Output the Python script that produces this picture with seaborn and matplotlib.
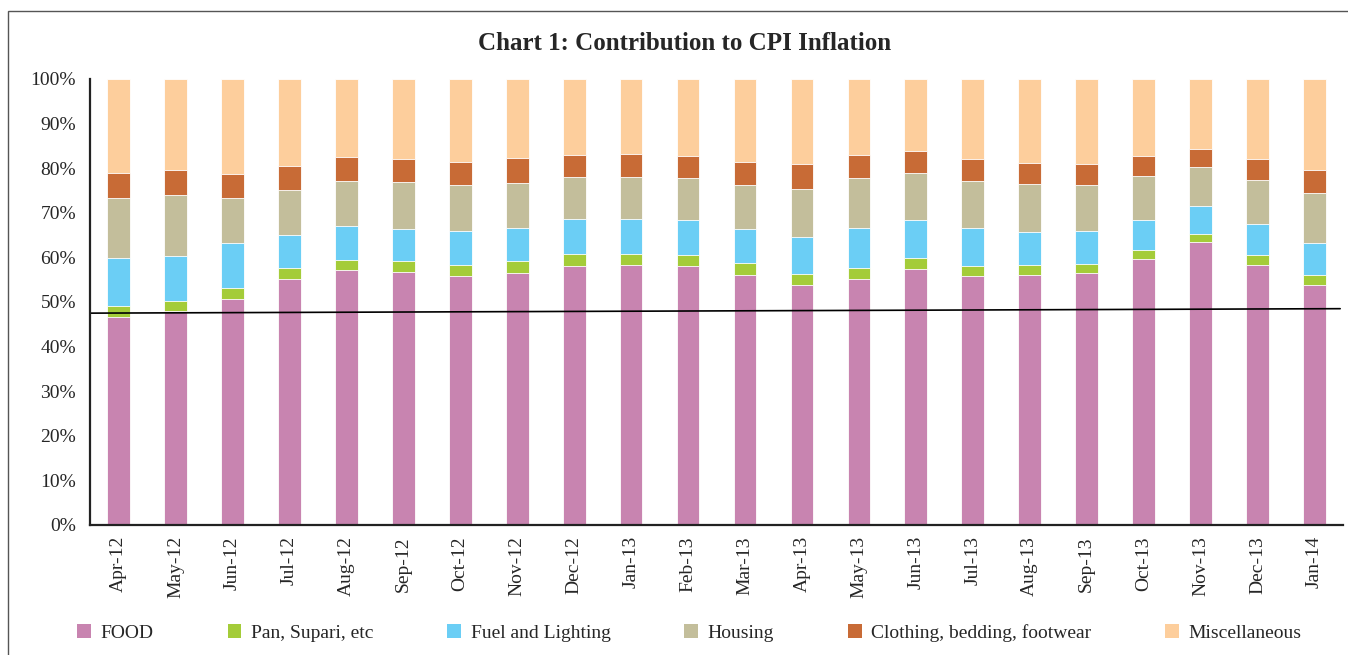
import pandas as pd
import numpy as np
import matplotlib.pyplot as plt
import seaborn as sns
from matplotlib.patches import Patch, Rectangle
from matplotlib.ticker import FixedLocator

sns.set_style("white")
plt.rcParams['font.family'] = ['Liberation Serif', 'DejaVu Serif']

# ---------------- DATA ----------------
months = ["Apr-12", "May-12", "Jun-12", "Jul-12", "Aug-12", "Sep-12", "Oct-12", "Nov-12",
          "Dec-12", "Jan-13", "Feb-13", "Mar-13", "Apr-13", "May-13", "Jun-13", "Jul-13",
          "Aug-13", "Sep-13", "Oct-13", "Nov-13", "Dec-13", "Jan-14"]
food = [46.7, 47.9, 50.7, 55.2, 57.1, 56.7, 55.9, 56.6, 58.1, 58.4, 58.1,
        56.1, 53.8, 55.2, 57.5, 55.9, 56.1, 56.4, 59.7, 63.5, 58.4, 53.7]
pan = [2.5, 2.3, 2.5, 2.5, 2.4, 2.4, 2.3, 2.5, 2.6, 2.4, 2.4,
       2.6, 2.4, 2.4, 2.4, 2.1, 2.1, 2.1, 2.0, 1.8, 2.1, 2.3]
fuel = [10.7, 10.0, 10.0, 7.3, 7.5, 7.2, 7.7, 7.6, 7.8, 7.9, 7.9,
        7.7, 8.4, 9.1, 8.5, 8.6, 7.6, 7.5, 6.7, 6.3, 6.9, 7.3]
housing = [13.4, 13.9, 10.1, 10.0, 10.1, 10.5, 10.3, 10.0, 9.5, 9.3, 9.3,
           9.9, 10.8, 11.0, 10.5, 10.5, 10.7, 10.2, 9.9, 8.7, 10.0, 11.1]
clothing = [5.6, 5.4, 5.5, 5.4, 5.3, 5.2, 5.3, 5.5, 5.0, 5.2, 5.0,
            5.2, 5.5, 5.3, 5.0, 4.9, 4.6, 4.7, 4.4, 4.0, 4.7, 5.3]
misc = [21.1, 20.5, 21.2, 19.6, 17.6, 18.0, 18.5, 17.8, 17.0, 16.8, 17.3,
        18.5, 19.1, 17.0, 16.1, 18.0, 18.9, 19.1, 17.3, 15.7, 17.9, 20.3]

series = ["FOOD", "Pan, Supari, etc", "Fuel and Lighting", "Housing",
          "Clothing, bedding, footwear", "Miscellaneous"]
colors = ["#C884B0", "#A4CC39", "#6BCEF5", "#C3BE9B", "#C86B36", "#FDCE9C"]

# trend line (start / end level, %)
trend_start, trend_end = 47.5, 48.5

df = pd.DataFrame({"month": months, "FOOD": food, "Pan, Supari, etc": pan,
                   "Fuel and Lighting": fuel, "Housing": housing,
                   "Clothing, bedding, footwear": clothing, "Miscellaneous": misc})
# normalise to 100% share and stack
tot = df[series].sum(axis=1)
for s in series:
    df[s] = df[s] / tot * 100
cum = df[series].cumsum(axis=1)
cum["month"] = months

# ---------------- PLOT ----------------
fig = plt.figure(figsize=(13.48, 6.55), dpi=100)
ax = fig.add_axes([0.0668, 0.1985, 0.9295, 0.6809])

# draw tallest first so the lower segments sit on top
for s, c in reversed(list(zip(series, colors))):
    sns.barplot(data=cum, x="month", y=s, color=c, saturation=1, width=0.4,
                edgecolor="white", linewidth=0.6, ax=ax)

ax.plot([-0.5, 21.45], [trend_start, trend_end], color="black", lw=1.2)

ax.set_xlim(-0.5, 21.5)
ax.set_ylim(0, 100)
ax.set_xlabel("")
ax.set_ylabel("")
ax.set_yticks(np.arange(0, 101, 10))
ax.set_yticklabels([f"{v}%" for v in range(0, 101, 10)], fontsize=14)
ax.set_xticks(range(len(months)))
ax.set_xticklabels(months, rotation=90, fontsize=14)
ax.xaxis.set_minor_locator(FixedLocator(np.arange(-0.5, 22, 1)))
ax.tick_params(axis="x", which="major", length=0, pad=8)
ax.tick_params(axis="x", which="minor", length=6, width=1.2, direction="out", color="#222222")
ax.tick_params(axis="y", length=6, width=1.2, direction="out", color="#222222", pad=4)
sns.despine(ax=ax)
for sp in ["left", "bottom"]:
    ax.spines[sp].set_linewidth(1.6)
    ax.spines[sp].set_color("#222222")

fig.text(0.508, 0.934, "Chart 1: Contribution to CPI Inflation", ha="center", va="center",
         fontsize=18, fontweight="bold")

handles = [Patch(facecolor=c, edgecolor="none") for c in colors]
fig.legend(handles, series, loc="center", bbox_to_anchor=(0.5115, 0.034), ncol=6,
           frameon=False, fontsize=14, handlelength=0.7, handleheight=0.7,
           handletextpad=0.5, columnspacing=3.8)

# page frame
fig.patches.append(Rectangle((8 / 1348, -0.1), 1.2, 1.1 - 11 / 655,
                             transform=fig.transFigure, fill=False,
                             edgecolor="#555555", lw=1))

fig.savefig("out.png", dpi=100)
